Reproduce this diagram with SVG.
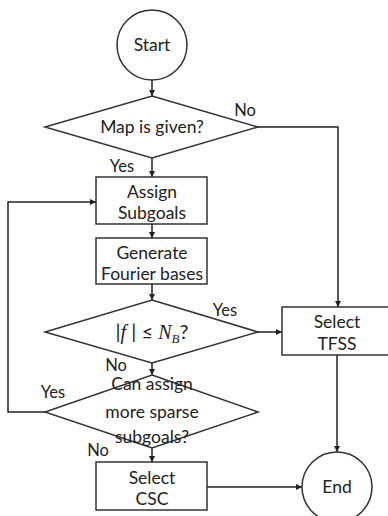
<svg xmlns="http://www.w3.org/2000/svg" width="388" height="516" viewBox="0 0 388 516">
  <defs>
    <marker id="arrow" viewBox="0 0 10 10" refX="10" refY="5" markerWidth="6" markerHeight="6" markerUnits="userSpaceOnUse" orient="auto">
      <path d="M0,0 L10,5 L0,10 z" fill="#222"/>
    </marker>
    <style>
      .shape { fill: #fff; stroke: #333; stroke-width: 1.5; }
      .edge { fill: none; stroke: #222; stroke-width: 1.5; marker-end: url(#arrow); }
      text { font-family: Lato, "Open Sans", "Liberation Sans", sans-serif; font-size: 17.5px; fill: #222; text-anchor: middle; }
      .label { font-size: 16.5px; }
      .formula { font-size: 20px; }
      .math { font-family: "Liberation Serif", "DejaVu Serif", serif; font-size: 20px; font-style: italic; }
      .sub { font-family: "Liberation Serif", "DejaVu Serif", serif; font-size: 13px; font-style: italic; }
    </style>
  </defs>
  <rect width="388" height="516" fill="#fff"/>

  <!-- connectors -->
  <g id="connectors">
    <path class="edge" d="M152,80 L152,96"/>
    <path class="edge" d="M152,158 L152,177"/>
    <path class="edge" d="M258,127 L338,127 L338,307"/>
    <path class="edge" d="M152,224 L152,238"/>
    <path class="edge" d="M152,284 L152,300"/>
    <path class="edge" d="M258,332 L282,332"/>
    <path class="edge" d="M152,363 L152,375"/>
    <path class="edge" d="M45,412 L8,412 L8,202 L96,202"/>
    <path class="edge" d="M152,448 L152,462"/>
    <path class="edge" d="M207,487 L302,487"/>
    <path class="edge" d="M337,355 L337,452"/>
    <text class="label" x="245" y="116">No</text>
    <text class="label" x="122" y="172">Yes</text>
    <text class="label" x="225" y="316">Yes</text>
    <text class="label" x="116" y="371">No</text>
    <text class="label" x="53" y="398">Yes</text>
    <text class="label" x="98" y="456">No</text>
  </g>

  <g id="start">
    <circle class="shape" cx="152" cy="45" r="35"/>
    <text x="152" y="51">Start</text>
  </g>

  <g id="map-given">
    <polygon class="shape" points="152,96 258,127 152,158 45,127"/>
    <text x="152" y="133">Map is given?</text>
  </g>

  <g id="assign-subgoals">
    <rect class="shape" x="96" y="177" width="111" height="47"/>
    <text x="152" y="198">Assign</text>
    <text x="152" y="219">Subgoals</text>
  </g>

  <g id="fourier-bases">
    <rect class="shape" x="96" y="238" width="111" height="46"/>
    <text x="152" y="259">Generate</text>
    <text x="152" y="280">Fourier bases</text>
  </g>

  <g id="basis-check">
    <polygon class="shape" points="152,300 258,332 152,363 45,332"/>
    <text class="formula" x="152" y="339">|<tspan class="math">f</tspan> | ≤ <tspan class="math">N</tspan><tspan class="sub" dy="4">B</tspan><tspan dy="-4">?</tspan></text>
  </g>

  <g id="sparse-check">
    <polygon class="shape" points="152,375 258,412 152,448 45,412"/>
    <text x="152" y="390">Can assign</text>
    <text x="152" y="418">more sparse</text>
    <text x="152" y="443">subgoals?</text>
  </g>

  <g id="select-tfss">
    <rect class="shape" x="282" y="307" width="110" height="48"/>
    <text x="337" y="328">Select</text>
    <text x="337" y="350">TFSS</text>
  </g>

  <g id="select-csc">
    <rect class="shape" x="96" y="462" width="111" height="48"/>
    <text x="152" y="484">Select</text>
    <text x="152" y="505">CSC</text>
  </g>

  <g id="end">
    <circle class="shape" cx="337" cy="487" r="35"/>
    <text x="337" y="493">End</text>
  </g>
</svg>
